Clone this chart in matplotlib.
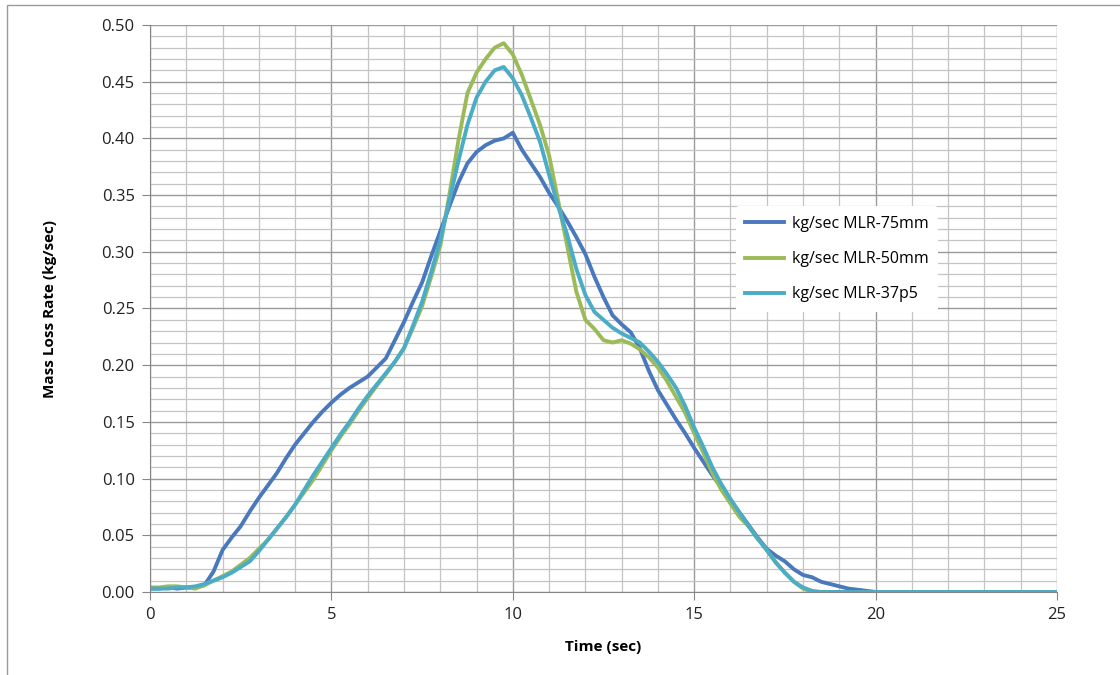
import numpy as np
import matplotlib
matplotlib.use("Agg")
import matplotlib.pyplot as plt
from matplotlib.patches import Rectangle
from matplotlib.ticker import MultipleLocator

# sample times (0.25 s steps to 20 s), then a final point at 25 s
time = list(np.arange(0, 20.25, 0.25)) + [25.0]

mlr_75mm = [
    0.003, 0.003, 0.004, 0.003, 0.004, 0.004, 0.006, 0.018, 0.037, 0.048,
    0.058, 0.071, 0.083, 0.094, 0.105, 0.118, 0.130, 0.140, 0.150, 0.159,
    0.167, 0.174, 0.180, 0.185, 0.190, 0.198, 0.206, 0.222, 0.238, 0.256,
    0.273, 0.296, 0.318, 0.340, 0.361, 0.378, 0.388, 0.394, 0.398, 0.400,
    0.405, 0.390, 0.378, 0.366, 0.352, 0.340, 0.327, 0.313, 0.298, 0.278,
    0.260, 0.244, 0.236, 0.229, 0.215, 0.195, 0.178, 0.165, 0.152, 0.140,
    0.127, 0.115, 0.103, 0.092, 0.081, 0.070, 0.059, 0.048, 0.038, 0.032,
    0.027, 0.020, 0.015, 0.013, 0.009, 0.007, 0.005, 0.003, 0.002, 0.001,
    0.000, 0.000,
]

mlr_50mm = [
    0.004, 0.004, 0.005, 0.005, 0.004, 0.003, 0.006, 0.010, 0.014, 0.018,
    0.024, 0.030, 0.038, 0.046, 0.056, 0.066, 0.077, 0.088, 0.099, 0.112,
    0.125, 0.137, 0.148, 0.160, 0.171, 0.182, 0.192, 0.203, 0.215, 0.233,
    0.252, 0.278, 0.305, 0.350, 0.398, 0.440, 0.458, 0.470, 0.480, 0.484,
    0.474, 0.456, 0.434, 0.412, 0.385, 0.345, 0.305, 0.265, 0.240, 0.232,
    0.222, 0.220, 0.222, 0.219, 0.214, 0.207, 0.198, 0.186, 0.172, 0.158,
    0.140, 0.123, 0.105, 0.090, 0.078, 0.066, 0.058, 0.047, 0.037, 0.026,
    0.017, 0.009, 0.003, 0.000, 0.000, 0.000, 0.000, 0.000, 0.000, 0.000,
    0.000, 0.000,
]

mlr_37p5 = [
    0.003, 0.003, 0.003, 0.004, 0.004, 0.005, 0.007, 0.010, 0.013, 0.017,
    0.022, 0.027, 0.036, 0.046, 0.056, 0.066, 0.077, 0.090, 0.103, 0.115,
    0.127, 0.139, 0.150, 0.162, 0.173, 0.183, 0.193, 0.203, 0.215, 0.235,
    0.256, 0.282, 0.310, 0.345, 0.380, 0.412, 0.436, 0.450, 0.460, 0.463,
    0.453, 0.438, 0.418, 0.397, 0.368, 0.340, 0.315, 0.285, 0.262, 0.247,
    0.240, 0.233, 0.228, 0.224, 0.220, 0.212, 0.203, 0.192, 0.180, 0.164,
    0.145, 0.128, 0.110, 0.095, 0.082, 0.070, 0.058, 0.047, 0.037, 0.026,
    0.017, 0.009, 0.004, 0.001, 0.000, 0.000, 0.000, 0.000, 0.000, 0.000,
    0.000, 0.000,
]

labels = ["kg/sec MLR-75mm", "kg/sec MLR-50mm", "kg/sec MLR-37p5"]
colors = ["#4A78BD", "#9BBB59", "#4BACC6"]

plt.rcParams["font.family"] = ["Open Sans", "DejaVu Sans"]

fig = plt.figure(figsize=(11.2, 6.75), dpi=100)
ax = fig.add_axes([150 / 1120, 83 / 675, 907 / 1120, 567 / 675])

for y, lab, c in zip([mlr_75mm, mlr_50mm, mlr_37p5], labels, colors):
    ax.plot(time, y, color=c, lw=2.8, label=lab, solid_joinstyle="round")

ax.set_xlim(0, 25)
ax.set_ylim(0, 0.5)
ax.xaxis.set_major_locator(MultipleLocator(5))
ax.xaxis.set_minor_locator(MultipleLocator(1))
ax.yaxis.set_major_locator(MultipleLocator(0.05))
ax.yaxis.set_minor_locator(MultipleLocator(0.01))
ax.yaxis.set_major_formatter(matplotlib.ticker.FormatStrFormatter("%.2f"))

ax.grid(which="major", color="#9a9a9a", lw=1.0)
ax.grid(which="minor", color="#c4c4c4", lw=0.9)
ax.set_axisbelow(True)

for s in ["top", "right"]:
    ax.spines[s].set_visible(False)
for s in ["left", "bottom"]:
    ax.spines[s].set_color("#868686")
ax.tick_params(which="major", direction="out", length=6, color="#868686",
               labelsize=12, labelcolor="#222222", pad=5)
ax.tick_params(which="minor", length=0)

ax.set_xlabel("Time (sec)", fontsize=11, fontweight="bold", labelpad=12)
ax.set_ylabel("Mass Loss Rate (kg/sec)", fontsize=11, fontweight="bold", labelpad=32)

leg = ax.legend(loc="upper left", bbox_to_anchor=(0.637, 0.694), frameon=True,
                fontsize=11.5, handlelength=2.4, handletextpad=0.5,
                labelspacing=1.2, borderpad=0.6)
leg.get_frame().set_edgecolor("none")
leg.get_frame().set_facecolor("white")
leg.get_frame().set_alpha(1)

# thin outer chart border
fig.patches.append(Rectangle((7 / 1120, -0.1), 1.2, 1.1 - 5 / 675,
                             transform=fig.transFigure, fill=False,
                             edgecolor="#9a9a9a", lw=1.0))

fig.savefig("out.png", dpi=100)
